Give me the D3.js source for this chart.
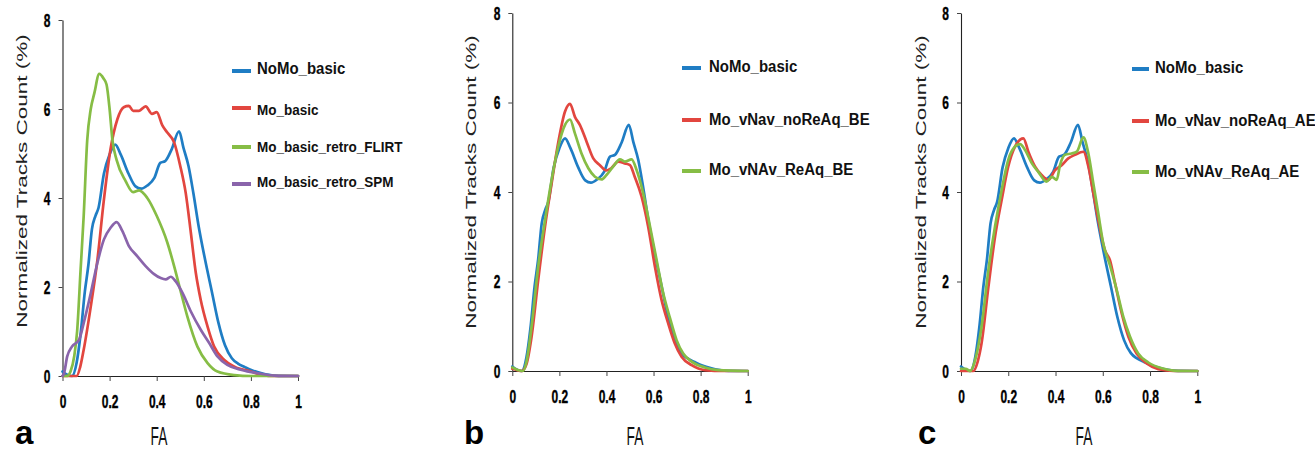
<!DOCTYPE html>
<html>
<head>
<meta charset="utf-8">
<script src="https://cdn.jsdelivr.net/npm/d3@7"></script>
<style>
  body { margin: 0; background: #fff; }
  svg { display: block; font-family: "Liberation Sans", Arial, sans-serif; }
</style>
</head>
<body>
<script>
// axis ticks
const faTicks = [0, 0.2, 0.4, 0.6, 0.8, 1];
const countTicks = [0, 2, 4, 6, 8];

// series: [FA, normalized tracks count %]
const noMoBasic = [[0,0.1],[0.02,0.03],[0.04,0],[0.06,0.3],[0.077,0.95],[0.095,1.9],[0.11,2.5],[0.125,3.3],[0.14,3.6],[0.153,3.78],[0.176,4.55],[0.2,4.98],[0.224,5.2],[0.247,4.98],[0.28,4.55],[0.31,4.26],[0.334,4.21],[0.36,4.28],[0.39,4.45],[0.415,4.79],[0.436,4.83],[0.464,5.1],[0.495,5.5],[0.514,5.12],[0.535,4.72],[0.556,4.1],[0.577,3.4],[0.606,2.6],[0.634,1.9],[0.662,1.2],[0.69,0.69],[0.719,0.4],[0.745,0.28],[0.775,0.2],[0.804,0.13],[0.846,0.06],[0.9,0.01],[1,0]];
const moBasic = [[0,0],[0.06,0],[0.075,0.2],[0.09,0.59],[0.12,1.56],[0.148,2.6],[0.176,3.97],[0.204,5.1],[0.233,5.77],[0.26,6.04],[0.282,6.07],[0.3,5.96],[0.325,5.96],[0.353,6.06],[0.38,5.89],[0.4,5.93],[0.424,5.63],[0.445,5.47],[0.474,5.25],[0.5,4.72],[0.523,4.12],[0.545,3.22],[0.566,2.32],[0.587,1.71],[0.616,1.11],[0.644,0.66],[0.687,0.36],[0.73,0.21],[0.8,0.1],[0.85,0.02],[0.9,0],[1,0]];
const moBasicRetroFlirt = [[0,0],[0.02,0],[0.034,0.1],[0.05,0.45],[0.062,1.0],[0.077,2.4],[0.09,3.6],[0.105,5.3],[0.12,6.0],[0.135,6.35],[0.156,6.79],[0.175,6.68],[0.187,6.55],[0.2,6.0],[0.212,5.3],[0.23,4.85],[0.268,4.38],[0.3,4.13],[0.325,4.17],[0.36,4.0],[0.4,3.6],[0.445,3.0],[0.474,2.47],[0.5,1.94],[0.53,1.34],[0.573,0.66],[0.616,0.29],[0.658,0.1],[0.73,0.02],[0.8,0],[1,0]];
const moBasicRetroSpm = [[0,0],[0.006,0.05],[0.02,0.44],[0.04,0.66],[0.07,0.81],[0.09,1.19],[0.12,1.86],[0.148,2.54],[0.176,3.07],[0.204,3.33],[0.23,3.46],[0.254,3.26],[0.282,2.92],[0.318,2.69],[0.353,2.47],[0.389,2.29],[0.417,2.2],[0.438,2.17],[0.46,2.23],[0.48,2.13],[0.51,1.86],[0.545,1.45],[0.587,1.04],[0.623,0.74],[0.658,0.44],[0.7,0.25],[0.757,0.14],[0.843,0.05],[0.9,0.01],[1,0]];
const moVNavNoReAqBE = [[0,0.05],[0.02,0.02],[0.04,0],[0.06,0.15],[0.082,0.77],[0.11,2.03],[0.139,3.23],[0.167,4.19],[0.195,5.1],[0.224,5.8],[0.245,5.97],[0.266,5.68],[0.287,5.5],[0.316,5.12],[0.344,4.75],[0.372,4.6],[0.4,4.48],[0.42,4.53],[0.45,4.68],[0.478,4.64],[0.5,4.6],[0.52,4.34],[0.549,3.9],[0.577,3.23],[0.606,2.33],[0.634,1.59],[0.662,1.07],[0.69,0.62],[0.719,0.32],[0.762,0.13],[0.818,0.02],[0.9,0],[1,0]];
const moVNAvReAqBE = [[0,0.08],[0.02,0.03],[0.045,0],[0.06,0.2],[0.082,1.0],[0.11,2.33],[0.139,3.37],[0.167,4.27],[0.195,5.01],[0.224,5.5],[0.245,5.62],[0.266,5.31],[0.294,4.86],[0.323,4.53],[0.351,4.34],[0.379,4.28],[0.4,4.38],[0.429,4.57],[0.457,4.73],[0.478,4.68],[0.507,4.73],[0.528,4.49],[0.556,3.97],[0.585,3.23],[0.613,2.48],[0.641,1.74],[0.67,1.18],[0.698,0.69],[0.726,0.39],[0.762,0.21],[0.818,0.08],[0.875,0.02],[1,0]];
const moVNavNoReAqAE = [[0,0],[0.052,0],[0.07,0.2],[0.087,0.62],[0.116,1.88],[0.144,3.0],[0.172,3.82],[0.2,4.57],[0.228,5.01],[0.264,5.2],[0.285,4.9],[0.313,4.57],[0.341,4.38],[0.37,4.27],[0.398,4.49],[0.426,4.6],[0.454,4.75],[0.482,4.83],[0.518,4.9],[0.539,4.57],[0.56,3.97],[0.581,3.37],[0.609,2.7],[0.63,2.48],[0.652,1.96],[0.68,1.29],[0.708,0.77],[0.743,0.39],[0.786,0.17],[0.835,0.04],[0.9,0],[1,0]];
const moVNAvReAqAE = [[0,0.05],[0.02,0.05],[0.038,0],[0.06,0.25],[0.087,0.99],[0.116,2.26],[0.144,3.23],[0.172,4.04],[0.2,4.72],[0.228,5.01],[0.25,5.07],[0.271,4.94],[0.3,4.64],[0.327,4.45],[0.362,4.23],[0.384,4.34],[0.405,4.27],[0.419,4.6],[0.44,4.83],[0.468,4.86],[0.49,4.9],[0.518,5.22],[0.539,4.86],[0.56,4.19],[0.581,3.52],[0.602,2.85],[0.63,2.37],[0.659,1.81],[0.687,1.21],[0.715,0.77],[0.75,0.39],[0.793,0.19],[0.85,0.06],[0.9,0.01],[1,0]];

const blue = '#1f7dc4', red = '#e2463f', green = '#86bd45', purple = '#8a64ab';

const width = 1315;
const height = 451;

// panel layout
const panels = [
  { letter: 'a', letterX: 15, letterY: 444,
    x0: 62.5, x1: 298, y0: 376, y1: 20, ylabX: 21, ylabY: 181, faX: 159,
    swatch: [232, 251], textX: 257,
    series: [
      { name: 'NoMo_basic', values: noMoBasic, color: blue, ly: 71, ty: 74, size: 15 },
      { name: 'Mo_basic', values: moBasic, color: red, ly: 108, ty: 115, size: 13.5 },
      { name: 'Mo_basic_retro_FLIRT', values: moBasicRetroFlirt, color: green, ly: 147, ty: 152, size: 13.5 },
      { name: 'Mo_basic_retro_SPM', values: moBasicRetroSpm, color: purple, ly: 184, ty: 187, size: 13.5 }
    ] },
  { letter: 'b', letterX: 464, letterY: 444,
    x0: 512.3, x1: 747.7, y0: 371, y1: 13, ylabX: 470, ylabY: 182, faX: 635,
    swatch: [682, 701], textX: 709,
    series: [
      { name: 'NoMo_basic', values: noMoBasic, color: blue, ly: 68, ty: 72, size: 15 },
      { name: 'Mo_vNav_noReAq_BE', values: moVNavNoReAqBE, color: red, ly: 120, ty: 125, size: 15 },
      { name: 'Mo_vNAv_ReAq_BE', values: moVNAvReAqBE, color: green, ly: 171, ty: 175, size: 15 }
    ] },
  { letter: 'c', letterX: 918, letterY: 444,
    x0: 961, x1: 1197.3, y0: 371, y1: 13, ylabX: 920, ylabY: 182, faX: 1084,
    swatch: [1132, 1149], textX: 1155,
    series: [
      { name: 'NoMo_basic', values: noMoBasic, color: blue, ly: 69, ty: 73, size: 15 },
      { name: 'Mo_vNav_noReAq_AE', values: moVNavNoReAqAE, color: red, ly: 121, ty: 126, size: 15 },
      { name: 'Mo_vNAv_ReAq_AE', values: moVNAvReAqAE, color: green, ly: 172, ty: 177, size: 15 }
    ] }
];

const svg = d3.select('body').append('svg')
  .attr('width', width)
  .attr('height', height);

const tickScale = 0.63;

const drawPanel = p => {
  const x = d3.scaleLinear().domain([0, 1]).range([p.x0, p.x1]);
  const y = d3.scaleLinear().domain([0, 8]).range([p.y0, p.y1]);
  const g = svg.append('g');

  // axes
  const xAxisG = g.append('g')
    .attr('transform', `translate(0,${p.y0})`)
    .call(d3.axisBottom(x).tickValues(faTicks).tickFormat(d3.format('~g')).tickSize(5).tickSizeOuter(0));
  const yAxisG = g.append('g')
    .attr('transform', `translate(${p.x0},0)`)
    .call(d3.axisLeft(y).tickValues(countTicks).tickSize(4).tickSizeOuter(0));

  [xAxisG, yAxisG].forEach(a => {
    a.attr('font-family', null).attr('font-size', null);
    a.select('.domain').attr('stroke', '#222').attr('stroke-width', 1.1);
    a.selectAll('.tick line').attr('stroke', '#444');
    a.selectAll('.tick text')
      .attr('fill', '#000')
      .style('font-size', '19px')
      .style('font-weight', 'bold')
      .attr('stroke', '#000')
      .attr('stroke-width', 0.4)
      .attr('transform', `scale(${tickScale},1)`);
  });
  xAxisG.selectAll('.tick text').attr('y', 19);
  yAxisG.selectAll('.tick text').attr('x', -12 / tickScale);

  // curves
  const line = d3.line()
    .x(d => x(d[0]))
    .y(d => y(d[1]))
    .curve(d3.curveMonotoneX);

  g.selectAll('path.series').data(p.series)
    .enter().append('path')
    .attr('class', 'series')
    .attr('d', d => line(d.values))
    .attr('fill', 'none')
    .attr('stroke', d => d.color)
    .attr('stroke-width', 2.7)
    .attr('stroke-linejoin', 'round')
    .attr('stroke-linecap', 'round');

  // legend
  const leg = g.selectAll('g.legend').data(p.series)
    .enter().append('g')
    .attr('class', 'legend');
  leg.append('line')
    .attr('x1', p.swatch[0]).attr('x2', p.swatch[1])
    .attr('y1', d => d.ly).attr('y2', d => d.ly)
    .attr('stroke', d => d.color)
    .attr('stroke-width', 4);
  leg.append('text')
    .attr('transform', d => `translate(${p.textX},${d.ty}) scale(1,1.12)`)
    .style('font-size', d => d.size + 'px')
    .style('font-weight', 'bold')
    .attr('fill', '#111')
    .text(d => d.name);

  // axis titles
  g.append('text')
    .attr('transform', `translate(${p.ylabX},${p.ylabY}) scale(0.68,1) rotate(-90)`)
    .attr('text-anchor', 'middle')
    .attr('dy', '0.36em')
    .style('font-size', '22.5px')
    .attr('fill', '#222')
    .text('Normalized Tracks Count (%)');

  g.append('text')
    .attr('transform', `translate(${p.faX},445) scale(0.55,1)`)
    .attr('text-anchor', 'middle')
    .style('font-size', '25px')
    .attr('fill', '#111')
    .text('FA');

  g.append('text')
    .attr('x', p.letterX)
    .attr('y', p.letterY)
    .style('font-size', '33px')
    .style('font-weight', 'bold')
    .attr('fill', '#000')
    .text(p.letter);
};

panels.forEach(drawPanel);
</script>
</body>
</html>
